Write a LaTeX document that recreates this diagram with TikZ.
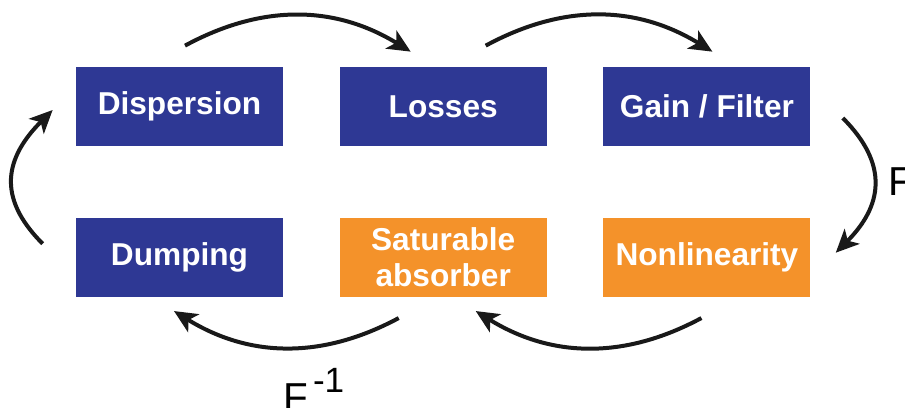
\documentclass[tikz,border=0pt]{standalone}
\usepackage{fontspec}
\setmainfont{Liberation Sans}
\usetikzlibrary{positioning,arrows.meta}
\definecolor{loopblue}{RGB}{46,56,148}
\definecolor{absorborange}{RGB}{244,146,42}

\begin{document}
\begin{tikzpicture}[
        node distance=1.42cm and 1.12cm,
        box/.style={rectangle, fill=loopblue, text=white, minimum width=4.14cm, minimum height=1.58cm, inner sep=0pt, align=center, font=\bfseries\fontsize{18}{20}\selectfont},
        arrow/.style={-{Stealth[length=0.46cm, width=0.42cm, inset=0.12cm]}, line width=0.08cm, black!90}
    ]
        \useasboundingbox (0,0) rectangle (18.1,-8.14);

        % top row
        \node[box] (disp) at (3.59,-2.13) {Dispersion};
        \node[box, right=of disp] (loss) {Losses};
        \node[box, right=of loss] (gain) {Gain / Filter};

        % bottom row
        \node[box, below=of disp] (dump) {Dumping};
        \node[box, fill=absorborange, below=of loss] (satabs) {Saturable\\absorber};
        \node[box, fill=absorborange, below=of gain] (nonlin) {Nonlinearity};

        % round trip
        \draw[arrow] ([xshift=0.11cm, yshift=0.42cm]disp.north) to[bend left=30] ([xshift=-0.65cm, yshift=0.3cm]loss.north);
        \draw[arrow] ([xshift=0.85cm, yshift=0.42cm]loss.north) to[bend left=30] ([xshift=0.11cm, yshift=0.3cm]gain.north);
        \draw[arrow] ([xshift=0.64cm, yshift=-0.23cm]gain.east) to[out=-45, in=45, looseness=1.25] ([xshift=0.5cm, yshift=0.09cm]nonlin.east);
        \draw[arrow] ([xshift=-0.11cm, yshift=-0.42cm]nonlin.south) to[bend left=30] ([xshift=0.65cm, yshift=-0.28cm]satabs.south);
        \draw[arrow] ([xshift=-0.89cm, yshift=-0.42cm]satabs.south) to[bend left=30] ([xshift=-0.11cm, yshift=-0.28cm]dump.south);
        \draw[arrow] ([xshift=-0.66cm, yshift=0.27cm]dump.west) to[out=135, in=-135, looseness=1.27] ([xshift=-0.46cm, yshift=-0.07cm]disp.west);

        % Fourier transforms
        \node[anchor=base west, inner sep=0pt, font=\fontsize{23}{26}\selectfont] (fwd) at (17.76,-3.9) {F};
        \node[anchor=base west, inner sep=0pt, font=\fontsize{23}{26}\selectfont] (inv) at (5.66,-8.22) {F\hspace{0.1cm}\raisebox{0.38cm}{\fontsize{20}{22}\selectfont -1}};

    \end{tikzpicture}
\end{document}
